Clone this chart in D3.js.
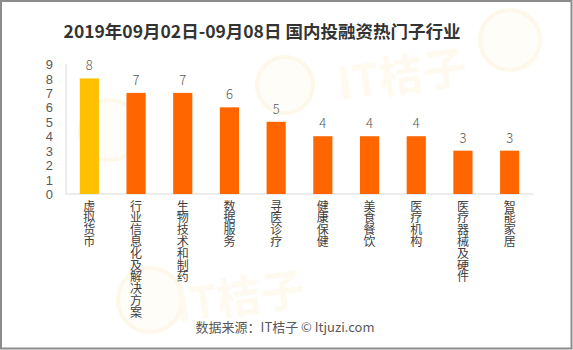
<!DOCTYPE html>
<html><head><meta charset="utf-8">
<script src="https://cdn.jsdelivr.net/npm/d3@7"></script>
<style>
html,body{margin:0;padding:0;background:#fff;}
svg{display:block;font-family:"Noto Sans CJK SC","Microsoft YaHei",sans-serif;}
</style></head>
<body><svg id="c" width="573" height="350"></svg>
<script>
const categories = ["虚拟货币","行业信息化及解决方案","生物技术和制药","数据服务","寻医诊疗","健康保健","美食餐饮","医疗机构","医疗器械及硬件","智能家居"];
const values = [8,7,7,6,5,4,4,4,3,3];
const yTicks = [0,1,2,3,4,5,6,7,8,9];
const titleText = "2019年09月02日-09月08日 国内投融资热门子行业";
const sourceText = "数据来源：IT桔子 © Itjuzi.com";

const svg = d3.select("#c");
const W = 573, H = 350;
const m = {left:66, right:40, top:64, bottom:156};

svg.append("rect").attr("width",W).attr("height",H).attr("fill","#fff");

// very faint watermarks
const wm = svg.append("g");
[[150,300,32],[110,130,30],[285,85,28],[510,40,30]].forEach(([cx,cy,r])=>{
  wm.append("circle").attr("cx",cx).attr("cy",cy).attr("r",r).attr("fill","#fffdf7").attr("stroke","#fef8ea").attr("stroke-width",4);
});
[[178,322],[340,100]].forEach(([x,y])=>{
  wm.append("text").attr("x",x).attr("y",y).attr("font-size",44).attr("font-weight","bold")
    .attr("fill","#fffaf0").attr("transform",`rotate(-8,${x},${y})`).text("IT桔子");
});

const x = d3.scaleBand().domain(categories).range([m.left, W-m.right]).paddingInner(0.59).paddingOuter(0.295);
const y = d3.scaleLinear().domain([0,9]).range([H-m.bottom, m.top]);

svg.append("line").attr("x1",m.left).attr("x2",m.left).attr("y1",y(9)).attr("y2",y(0)).attr("stroke","#d9d9d9");
svg.append("line").attr("x1",m.left).attr("x2",W-m.right).attr("y1",y(0)).attr("y2",y(0)).attr("stroke","#d9d9d9");

const ya = svg.append("g").attr("transform",`translate(${m.left-13},0)`)
  .call(d3.axisLeft(y).tickValues(yTicks).tickSize(0).tickPadding(0).tickFormat(d3.format("d")));
ya.select(".domain").remove();
ya.selectAll("text").attr("font-size",12.9).attr("fill","#595959")
  .attr("font-family","'Liberation Sans',Arial,sans-serif").attr("dy","0.36em");

svg.append("g").selectAll("rect").data(categories).join("rect")
  .attr("x",d=>x(d)).attr("width",x.bandwidth())
  .attr("y",(d,i)=>y(values[i])).attr("height",(d,i)=>y(0)-y(values[i]))
  .attr("fill",(d,i)=>i===0?"#FFC000":"#FF6600");

svg.append("g").selectAll("text").data(categories).join("text")
  .attr("x",d=>x(d)+x.bandwidth()/2).attr("y",(d,i)=>y(values[i])-8)
  .attr("text-anchor","middle").attr("font-size",13).attr("fill","#595959").attr("font-weight",300)
  .text((d,i)=>values[i]);

// x labels, vertical writing
svg.append("g").selectAll("text").data(categories).join("text")
  .attr("x",d=>x(d)+x.bandwidth()/2).attr("y",200)
  .style("writing-mode","vertical-rl").style("letter-spacing","-0.2px")
  .attr("font-size",12).attr("fill","#404040")
  .text(d=>d);

svg.append("text").attr("x",262).attr("y",38).attr("text-anchor","middle")
  .attr("font-size",17.5).attr("font-weight","bold").attr("fill","#333333").text(titleText);

svg.append("text").attr("x",285).attr("y",332).attr("text-anchor","middle")
  .attr("font-size",13).attr("fill","#595959").text(sourceText);

svg.append("rect").attr("x",1).attr("y",1).attr("width",W-2.5).attr("height",H-2.5)
  .attr("fill","none").attr("stroke","#8c8c8c").attr("stroke-width",2);
</script></body></html>
